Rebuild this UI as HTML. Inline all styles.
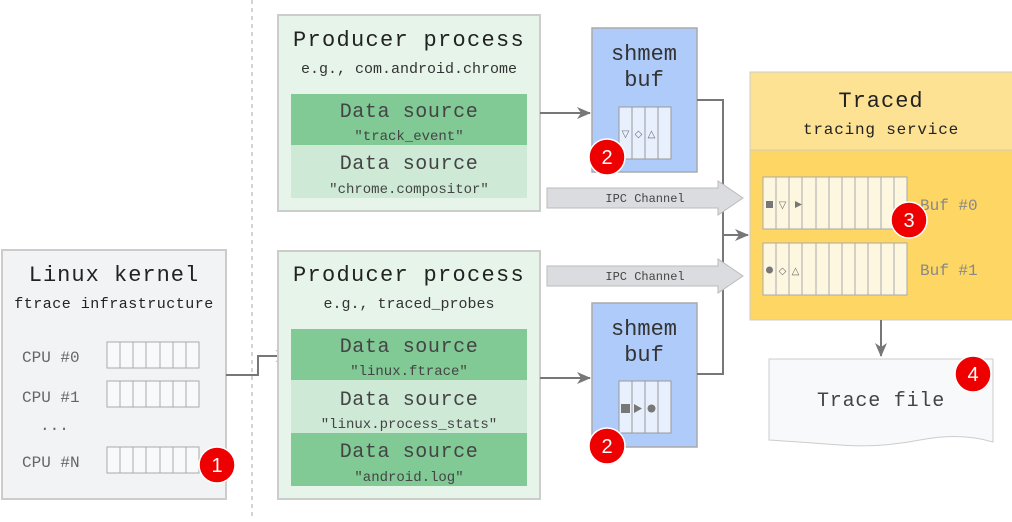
<!DOCTYPE html>
<html><head><style>body{margin:0;background:#fff}</style></head><body>
<svg width="1012" height="517" xmlns="http://www.w3.org/2000/svg" font-family="'Liberation Mono',monospace">
<defs><marker id="a" markerWidth="14" markerHeight="12" refX="13" refY="6" orient="auto" markerUnits="userSpaceOnUse"><path d="M0,0 L14,6 L0,12 L4,6 z" fill="#777"/></marker></defs>
<line x1="252" y1="0" x2="252" y2="517" stroke="#aaa" stroke-dasharray="4,4"/>
<!-- kernel -->
<rect x="2" y="250" width="224" height="249" fill="#f1f3f4" stroke="#ccc" stroke-width="2"/>
<text x="114" y="281" font-size="22" text-anchor="middle" fill="#222" letter-spacing="1">Linux kernel</text>
<text x="114" y="308" font-size="15" text-anchor="middle" fill="#222" letter-spacing="0.5">ftrace infrastructure</text>
<g font-size="16" fill="#666"><text x="22" y="362">CPU #0</text><text x="22" y="402">CPU #1</text><text x="40" y="430">...</text><text x="22" y="467">CPU #N</text></g>
<g fill="#f8f9fa" stroke="#aaa">
<rect x="107" y="342" width="92" height="26"/><rect x="107" y="381" width="92" height="26"/><rect x="107" y="447" width="92" height="26"/>
</g>
<g stroke="#aaa"><path d="M120,342v26M133,342v26M146,342v26M160,342v26M173,342v26M186,342v26M120,381v26M133,381v26M146,381v26M160,381v26M173,381v26M186,381v26M120,447v26M133,447v26M146,447v26M160,447v26M173,447v26M186,447v26"/></g>
<path d="M226,375H258V356H289" fill="none" stroke="#777" stroke-width="2" marker-end="url(#a)"/>
<!-- producer 1 -->
<rect x="278" y="15" width="262" height="196" fill="#e6f4ea" stroke="#ccc" stroke-width="2"/>
<text x="409" y="46" font-size="22" text-anchor="middle" fill="#222" letter-spacing="1.3">Producer process</text>
<text x="409" y="73" font-size="15" text-anchor="middle" fill="#333">e.g., com.android.chrome</text>
<rect x="291" y="94" width="236" height="51" fill="#81c995"/>
<rect x="291" y="145" width="236" height="53" fill="#ceead6"/>
<g text-anchor="middle" fill="#444"><text x="409" y="117" font-size="20" letter-spacing="0.6">Data source</text><text x="409" y="140" font-size="14">"track_event"</text>
<text x="409" y="169" font-size="20" letter-spacing="0.6">Data source</text><text x="409" y="193" font-size="14">"chrome.compositor"</text></g>
<!-- producer 2 -->
<rect x="278" y="251" width="262" height="248" fill="#e6f4ea" stroke="#ccc" stroke-width="2"/>
<text x="409" y="281" font-size="22" text-anchor="middle" fill="#222" letter-spacing="1.3">Producer process</text>
<text x="409" y="308" font-size="15" text-anchor="middle" fill="#333">e.g., traced_probes</text>
<rect x="291" y="329" width="236" height="51" fill="#81c995"/>
<rect x="291" y="380" width="236" height="53" fill="#ceead6"/>
<rect x="291" y="433" width="236" height="53" fill="#81c995"/>
<g text-anchor="middle" fill="#444"><text x="409" y="352" font-size="20" letter-spacing="0.6">Data source</text><text x="409" y="375" font-size="14">"linux.ftrace"</text>
<text x="409" y="405" font-size="20" letter-spacing="0.6">Data source</text><text x="409" y="428" font-size="14">"linux.process_stats"</text>
<text x="409" y="457" font-size="20" letter-spacing="0.6">Data source</text><text x="409" y="481" font-size="14">"android.log"</text></g>
<!-- shmem -->
<rect x="592" y="28" width="105" height="144" fill="#aecbfa" stroke="#aaa" stroke-width="1.5"/>
<text x="644" y="60" font-size="22" text-anchor="middle" fill="#333">shmem</text><text x="644" y="86" font-size="22" text-anchor="middle" fill="#333">buf</text>
<rect x="619" y="107" width="52" height="52" fill="#e8f0fe" stroke="#999"/><path d="M632,107v52M645,107v52M658,107v52" stroke="#999"/>
<g font-size="10" fill="#666" text-anchor="middle"><text x="625.5" y="137">▽</text><text x="638.5" y="137">◇</text><text x="651.5" y="137">△</text></g>
<rect x="592" y="303" width="105" height="144" fill="#aecbfa" stroke="#aaa" stroke-width="1.5"/>
<text x="644" y="335" font-size="22" text-anchor="middle" fill="#333">shmem</text><text x="644" y="361" font-size="22" text-anchor="middle" fill="#333">buf</text>
<rect x="619" y="381" width="52" height="52" fill="#e8f0fe" stroke="#999"/><path d="M632,381v52M645,381v52M658,381v52" stroke="#999"/>
<g fill="#777"><rect x="621" y="404" width="9" height="9"/><path d="M634,404L642,408.5L634,413Z"/><circle cx="651.5" cy="408.5" r="4"/></g>
<path d="M540,113H590" stroke="#777" stroke-width="2" marker-end="url(#a)"/>
<path d="M540,378H590" stroke="#777" stroke-width="2" marker-end="url(#a)"/>
<path d="M697,100H723V374H697" fill="none" stroke="#777" stroke-width="2"/>
<path d="M723,235H748" stroke="#777" stroke-width="2" marker-end="url(#a)"/>
<!-- IPC -->
<path d="M547,188H718V181L743,198L718,215V208H547Z" fill="#dadce0" stroke="#bbb"/>
<text x="645" y="202" font-size="12" text-anchor="middle" fill="#444">IPC Channel</text>
<path d="M547,266H718V259L743,276L718,293V286H547Z" fill="#dadce0" stroke="#bbb"/>
<text x="645" y="280" font-size="12" text-anchor="middle" fill="#444">IPC Channel</text>
<!-- traced -->
<rect x="750" y="72" width="270" height="248" fill="#fdd663" stroke="#ccc"/>
<rect x="750" y="72" width="270" height="78" fill="#fde293" stroke="#ccc"/>
<text x="881" y="107" font-size="22" text-anchor="middle" fill="#222" letter-spacing="1">Traced</text>
<text x="881" y="134" font-size="16" text-anchor="middle" fill="#222" letter-spacing="0.8">tracing service</text>
<g fill="#fef7e0" stroke="#aaa"><rect x="763" y="177" width="144" height="52"/><rect x="763" y="243" width="144" height="52"/></g>
<path d="M776,177v52M789,177v52M802,177v52M816,177v52M829,177v52M842,177v52M855,177v52M868,177v52M881,177v52M894,177v52M776,243v52M789,243v52M802,243v52M816,243v52M829,243v52M842,243v52M855,243v52M868,243v52M881,243v52M894,243v52" stroke="#aaa"/>
<g fill="#777"><rect x="766" y="201" width="7" height="7"/><path d="M795,201L802,204.5L795,208Z"/><circle cx="769.5" cy="270" r="3.5"/></g>
<g font-size="10" fill="#666" text-anchor="middle"><text x="782.5" y="208">▽</text><text x="782.5" y="274">◇</text><text x="795.5" y="274">△</text></g>
<g font-size="16" fill="#888"><text x="920" y="210">Buf #0</text><text x="920" y="275">Buf #1</text></g>
<path d="M881,320V356" stroke="#777" stroke-width="2" marker-end="url(#a)"/>
<path d="M769,359H993V442Q960,432 920,440T840,445T769,440Z" fill="#f8f9fa" stroke="#ccc"/>
<text x="881" y="406" font-size="20" text-anchor="middle" fill="#444" letter-spacing="0.8">Trace file</text>
<!-- badges -->
<g font-family="'Liberation Sans',sans-serif" font-size="20" fill="#fff" text-anchor="middle">
<circle cx="217" cy="465" r="18" fill="#e00" stroke="#fff" stroke-width="1.5"/><text x="217" y="472">1</text>
<circle cx="607" cy="157" r="18" fill="#e00" stroke="#fff" stroke-width="1.5"/><text x="607" y="164">2</text>
<circle cx="607" cy="446" r="18" fill="#e00" stroke="#fff" stroke-width="1.5"/><text x="607" y="453">2</text>
<circle cx="909" cy="220" r="18" fill="#e00" stroke="#fff" stroke-width="1.5"/><text x="909" y="227">3</text>
<circle cx="973" cy="374" r="18" fill="#e00" stroke="#fff" stroke-width="1.5"/><text x="973" y="381">4</text>
</g>
</svg>
</body></html>
